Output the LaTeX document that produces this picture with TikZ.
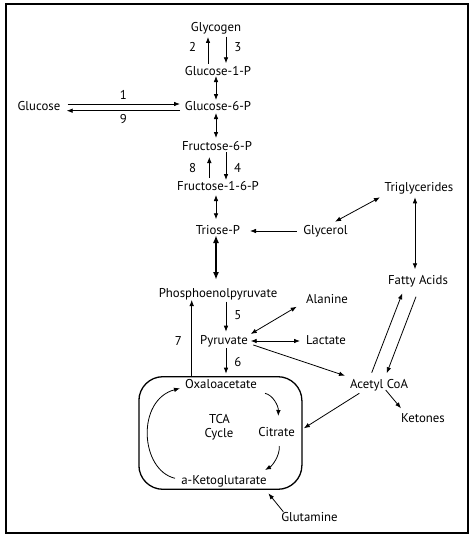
\documentclass[tikz,border=0pt]{standalone}
\usepackage{fontspec}
\setmainfont{PT Sans}
\usetikzlibrary{arrows.meta,positioning,calc}
\tikzset{
  met/.style      = {font=\fontsize{12.8}{14}\selectfont, inner sep=1pt, anchor=base},
  num/.style      = {font=\fontsize{12.8}{14}\selectfont, inner sep=1pt, anchor=base},
  rx/.style       = {-{Latex[length=6pt,width=4.6pt]}, line width=0.8pt},
  rxx/.style      = {{Latex[length=6pt,width=4.6pt]}-{Latex[length=6pt,width=4.6pt]}, line width=0.8pt},
  rxbold/.style   = {{Latex[length=8pt,width=6pt]}-{Latex[length=8pt,width=6pt]}, line width=1.7pt},
  cyclebox/.style = {draw, line width=1.3pt, rounded corners=24pt, minimum width=163pt,
                     minimum height=112.6pt, inner sep=0pt},
}

\begin{document}
\begin{tikzpicture}[x=1pt,y=-1pt]
  \useasboundingbox (0,0) rectangle (474,543);
  \draw[line width=2.2pt] (6,4) rectangle (468,533);
  % metabolites
  \node[met] (glycogen) at (216,32) {Glycogen};
  \node[met] (g1p) at (218,75) {Glucose-1-P};
  \node[met] (glucose) at (39,110) {Glucose};
  \node[met] (g6p) at (218,110) {Glucose-6-P};
  \node[met] (f6p) at (217,150) {Fructose-6-P};
  \node[met] (f16p) at (218,190) {Fructose-1-6-P};
  \node[met] (trig) at (419,191) {Triglycerides};
  \node[met] (triose) at (218,234) {Triose-P};
  \node[met] (glycerol) at (325.5,234) {Glycerol};
  \node[met] (fatty) at (418,284) {Fatty Acids};
  \node[met] (pep) at (218,297) {Phosphoenolpyruvate};
  \node[met] (alanine) at (327,303) {Alanine};
  \node[met] (pyr) at (224,344) {Pyruvate};
  \node[met] (lactate) at (326,344) {Lactate};
  \node[met] (acoa) at (379,388) {Acetyl CoA};
  \node[met] (ketones) at (423,422) {Ketones};
  \node[met] (glutamine) at (309.5,521) {Glutamine};
  % TCA cycle
  \node[cyclebox] (tcabox) at (220.4,433) {};
  \node[met] (oaa) at (221,388) {Oxaloacetate};
  \node[met] (tca) at (219.5,423) {TCA};
  \node[met] (cyc) at (219,437) {Cycle};
  \node[met] (citrate) at (276.5,436) {Citrate};
  \node[met] (akg) at (224,484) {a-Ketoglutarate};
  % reaction numbers
  \node[num] (n1) at (123.3,99) {1};
  \node[num] (n9) at (123.3,123) {9};
  \node[num] (n2) at (192.7,52) {2};
  \node[num] (n3) at (237.8,52) {3};
  \node[num] (n8) at (192.7,172) {8};
  \node[num] (n4) at (237.5,172) {4};
  \node[num] (n5) at (237.8,319) {5};
  \node[num] (n7) at (178.3,345) {7};
  \node[num] (n6) at (237.8,366) {6};
  % glycogen and glucose
  \draw[rx] ($(g1p.base)+(-10,-11)$) -- ($(glycogen.base)+(-8,5)$);
  \draw[rx] ($(glycogen.base)+(10,4.7)$) -- ($(g1p.base)+(8,-11.7)$);
  \draw[rxx] ($(g1p.base)+(-2,1)$) -- ($(g6p.base)+(-2,-10)$);
  \draw[rx] ($(glucose.base)+(28.7,-6)$) -- ($(g6p.base)+(-38,-6)$);
  \draw[rx] ($(g6p.base)+(-38,0.7)$) -- ($(glucose.base)+(27.7,0.7)$);
  % glycolysis
  \draw[rxx] ($(g6p.base)+(-2,3)$) -- ($(f6p.base)+(-1,-12)$);
  \draw[rx] ($(f16p.base)+(-8.7,-12)$) -- ($(f6p.base)+(-7.7,7)$);
  \draw[rx] ($(f6p.base)+(9,2)$) -- ($(f16p.base)+(8,-10)$);
  \draw[rxx] ($(f16p.base)+(-2,5)$) -- ($(triose.base)+(-2,-14.7)$);
  \draw[rxbold] ($(triose.base)+(-2,1)$) -- ($(pep.base)+(-2,-17)$);
  \draw[rx] ($(pep.base)+(8,4.7)$) -- ($(pyr.base)+(2,-12.3)$);
  \draw[rx] ($(pyr.base)+(2,4.3)$) -- ($(tcabox.north)+(5.6,-2.4)$);
  \draw[rx] ($(tcabox.north)+(-28.7,0)$) -- ($(pep.base)+(-26.3,3)$);
  % glycerol and fats
  \draw[rx] ($(glycerol.base)+(-28.8,-3)$) -- ($(triose.base)+(32,-3)$);
  \draw[rxx] ($(glycerol.base)+(9.5,-12.3)$) -- ($(trig.base)+(-39,6.3)$);
  \draw[rxx] ($(trig.base)+(-4,6.3)$) -- ($(fatty.base)+(-3,-14.7)$);
  \draw[rx] ($(acoa.base)+(-7.3,-15.3)$) -- ($(fatty.base)+(-15.7,9.3)$);
  \draw[rx] ($(fatty.base)+(-2,12.7)$) -- ($(acoa.base)+(7.7,-14.7)$);
  % pyruvate branches
  \draw[rxx] ($(pyr.base)+(26.7,-10)$) -- ($(alanine.base)+(-30.3,3.7)$);
  \draw[rxx] ($(pyr.base)+(26.7,-3)$) -- ($(lactate.base)+(-26,-3)$);
  \draw[rx] ($(pyr.base)+(29.3,1)$) -- ($(acoa.base)+(-34,-12.3)$);
  \draw[rx] ($(acoa.base)+(6.7,2)$) -- ($(ketones.base)+(-22,-13.7)$);
  \draw[rx] ($(acoa.base)+(-19.7,5.3)$) -- ($(tcabox.east)+(1.3,-4.7)$);
  \draw[rx] ($(glutamine.base)+(-26.2,-9.3)$) -- ($(tcabox.south)+(48,3.4)$);
  % inside the cycle
  \draw[rx] ($(oaa.base)+(44,5.3)$) .. controls ($(oaa.base)+(52,7)$) and ($(citrate.base)+(2,-30)$) .. ($(citrate.base)+(1.8,-20)$);
  \draw[rx] ($(citrate.base)+(2.8,10)$) .. controls ($(citrate.base)+(3.5,20)$) and ($(akg.base)+(48,-18)$) .. ($(akg.base)+(41,-14)$);
  \draw[rx] ($(akg.base)+(-49,-5.7)$) .. controls ($(akg.base)+(-84,-14)$) and ($(oaa.base)+(-85,12)$) .. ($(oaa.base)+(-41,0.3)$);
\end{tikzpicture}
\end{document}
